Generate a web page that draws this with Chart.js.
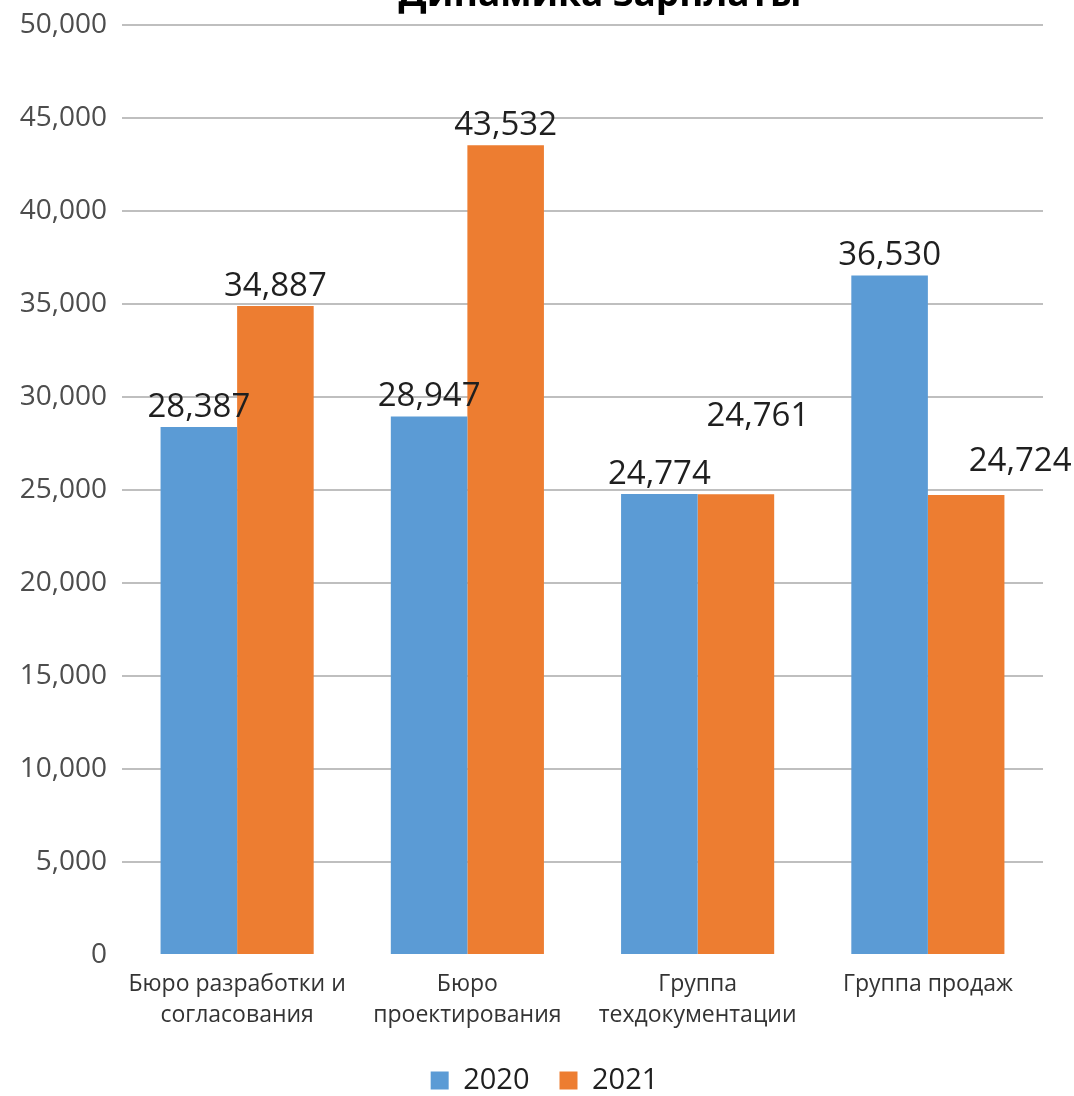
<!DOCTYPE html>
<html>
<head>
<meta charset="utf-8">
<script src="https://cdn.jsdelivr.net/npm/chart.js@4/dist/chart.umd.min.js"></script>
<style>
  html, body { margin: 0; padding: 0; background: #fff; }
  #wrap { width: 1074px; height: 1096px; }
</style>
</head>
<body>
<div id="wrap"><canvas id="salaryChart" width="1074" height="1096"></canvas></div>
<script>
var categories = [
    ['Бюро разработки и', 'согласования'],
    ['Бюро', 'проектирования'],
    ['Группа', 'техдокументации'],
    'Группа продаж'
];
var years = ['2020', '2021'];
var values2020 = [28387, 28947, 24774, 36530];
var values2021 = [34887, 43532, 24761, 24724];
var yTicks = [0, 5000, 10000, 15000, 20000, 25000, 30000, 35000, 40000, 45000, 50000];

var FONT = '"Open Sans", "DejaVu Sans", sans-serif';

// label nudges, [dataset][index] = [dx, dy]
var labelNudge = [
    [[0, 0], [0, 0], [0, 0], [0, 0]],
    [[0, 0], [0, 0], [22, -58], [54, -14]]
];

var titlePlugin = {
    id: 'cutTitle',
    afterDraw: function (chart) {
        var ctx = chart.ctx;
        ctx.save();
        ctx.font = 'bold 37px ' + FONT;
        ctx.fillStyle = '#000';
        ctx.textAlign = 'center';
        ctx.textBaseline = 'alphabetic';
        ctx.fillText('Динамика зарплаты', 600, 6);
        ctx.restore();
    }
};

// legend sits a bit right of the plot centre
var legendShift = {
    id: 'legendShift',
    afterLayout: function (chart) {
        if (chart.legend) {
            chart.legend.left += 23;
            chart.legend.right += 23;
        }
    }
};

var valueLabels = {
    id: 'valueLabels',
    afterDatasetsDraw: function (chart) {
        var ctx = chart.ctx;
        ctx.save();
        ctx.font = '33px ' + FONT;
        ctx.fillStyle = '#1f1f1f';
        ctx.textAlign = 'center';
        ctx.textBaseline = 'alphabetic';
        chart.data.datasets.forEach(function (ds, di) {
            var meta = chart.getDatasetMeta(di);
            meta.data.forEach(function (bar, i) {
                var n = labelNudge[di][i];
                ctx.fillText(ds.data[i].toLocaleString('en-US'), bar.x + n[0], bar.y - 10 + n[1]);
            });
        });
        ctx.restore();
    }
};

var ctx = document.getElementById('salaryChart').getContext('2d');
var chart = new Chart(ctx, {
    type: 'bar',
    data: {
        labels: categories,
        datasets: [{
            label: years[0],
            data: values2020,
            backgroundColor: '#5B9BD5',
            borderWidth: 0
        }, {
            label: years[1],
            data: values2021,
            backgroundColor: '#ED7D31',
            borderWidth: 0
        }]
    },
    options: {
        responsive: false,
        animation: false,
        devicePixelRatio: 1,
        layout: { padding: { top: 23, right: 31, left: 0, bottom: -9 } },
        categoryPercentage: 0.665,
        barPercentage: 1.0,
        plugins: {
            legend: {
                position: 'bottom',
                labels: {
                    font: { family: FONT, size: 29 },
                    color: '#1f1f1f',
                    boxWidth: 18,
                    boxHeight: 18,
                    padding: 30
                }
            },
            tooltip: { enabled: false }
        },
        scales: {
            x: {
                grid: { display: false, drawTicks: false },
                border: { display: false },
                ticks: {
                    font: { family: FONT, size: 23, lineHeight: 1.35 },
                    color: '#333333',
                    padding: 14,
                    maxRotation: 0,
                    autoSkip: false
                },
                afterFit: function (s) { s.height = 81; }
            },
            y: {
                min: 0,
                max: 50000,
                afterBuildTicks: function (s) {
                    s.ticks = yTicks.map(function (v) { return { value: v }; });
                },
                grid: {
                    color: function (c) { return c.tick && c.tick.value === 0 ? 'rgba(0,0,0,0)' : '#BFBFBF'; },
                    lineWidth: 2,
                    drawTicks: false
                },
                border: { display: false },
                ticks: {
                    font: { family: FONT, size: 28, lineHeight: 0.7 },
                    color: '#4d4d4d',
                    padding: 15,
                    callback: function (v) { return v.toLocaleString('en-US'); }
                },
                afterFit: function (s) { s.width = 122; }
            }
        }
    },
    plugins: [valueLabels, titlePlugin, legendShift]
});
</script>
</body>
</html>
